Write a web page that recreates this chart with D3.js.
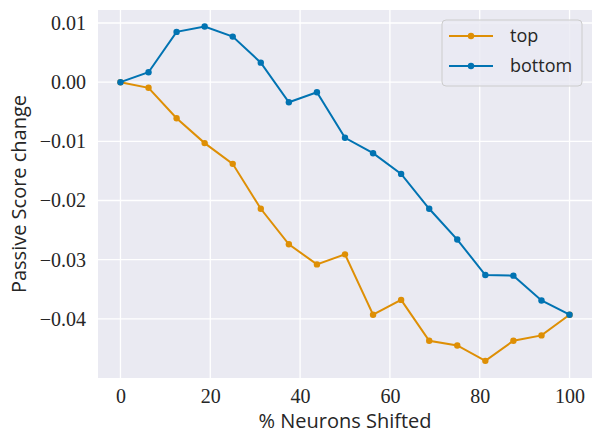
<!DOCTYPE html>
<html>
<head>
<meta charset="utf-8">
<script src="https://cdn.jsdelivr.net/npm/d3@7"></script>
<style>
  body { margin: 0; background: white; }
  svg { display: block; }
</style>
</head>
<body>
<div id="chart"></div>
<script>
// Percent of neurons shifted (x values).
let xValues = [0, 6.25, 12.5, 18.75, 25, 31.25, 37.5, 43.75, 50, 56.25, 62.5, 68.75, 75, 81.25, 87.5, 93.75, 100];

// Series values.
let topValues = [0, -0.00095, -0.0061, -0.0103, -0.0138, -0.0214, -0.0274, -0.0308, -0.0291,
	-0.0393, -0.0368, -0.0437, -0.0445, -0.0471, -0.0437, -0.0428, -0.0393];
let bottomValues = [0, 0.00168, 0.0085, 0.0094, 0.0077, 0.0033, -0.0034, -0.0017, -0.0094,
	-0.0120, -0.0155, -0.0214, -0.0266, -0.0326, -0.0327, -0.0369, -0.0393];

let xTicks = [0, 20, 40, 60, 80, 100];
let yTicks = [0.01, 0, -0.01, -0.02, -0.03, -0.04];

let seriesNames = ["top", "bottom"];
let seriesColors = ["#de8f05", "#0173b2"];


let width = 602, height = 441;
let margin = {top: 10, right: 10, bottom: 63, left: 98};

let svg = d3.select("#chart").append("svg")
	.attr("width", width)
	.attr("height", height);

let x = d3.scaleLinear()
	.domain([-5, 105])
	.range([margin.left, width - margin.right]);

let y = d3.scaleLinear()
	.domain([-0.0500, 0.0122])
	.range([height - margin.bottom, margin.top]);

// Plot background.
svg.append("rect")
	.attr("x", margin.left)
	.attr("y", margin.top)
	.attr("width", width - margin.left - margin.right)
	.attr("height", height - margin.top - margin.bottom)
	.attr("fill", "#eaeaf2");

// Grid lines.
let grid = svg.append("g").attr("class", "grid");
grid.selectAll("line.gx")
	.data(xTicks)
	.enter().append("line")
	.attr("class", "gx")
	.attr("x1", d=>x(d)).attr("x2", d=>x(d))
	.attr("y1", margin.top).attr("y2", height - margin.bottom)
	.attr("stroke", "white").attr("stroke-width", 1.3);
grid.selectAll("line.gy")
	.data(yTicks)
	.enter().append("line")
	.attr("class", "gy")
	.attr("y1", d=>y(d)).attr("y2", d=>y(d))
	.attr("x1", margin.left).attr("x2", width - margin.right)
	.attr("stroke", "white").attr("stroke-width", 1.3);

// Axes (labels only, no domain or tick marks).
let minus = s=>s.replace("-", "\u2212");

let xAxis = svg.append("g")
	.attr("transform", `translate(0,${height - margin.bottom})`)
	.call(d3.axisBottom(x).tickValues(xTicks).tickSize(0).tickPadding(11));
xAxis.select(".domain").remove();
xAxis.selectAll("text")
	.attr("font-family", "'Liberation Serif', 'DejaVu Serif', serif")
	.attr("font-size", 20)
	.attr("fill", "#262626");

let yAxis = svg.append("g")
	.attr("transform", `translate(${margin.left},0)`)
	.call(d3.axisLeft(y).tickValues(yTicks).tickSize(0).tickPadding(12)
		.tickFormat(d=>minus(d3.format(".2f")(d))));
yAxis.select(".domain").remove();
yAxis.selectAll("text")
	.attr("font-family", "'Liberation Serif', 'DejaVu Serif', serif")
	.attr("font-size", 20)
	.attr("fill", "#262626");

// Axis titles.
svg.append("text")
	.attr("x", (margin.left + width - margin.right) / 2)
	.attr("y", 428)
	.attr("text-anchor", "middle")
	.attr("font-family", "'Open Sans', 'DejaVu Sans', sans-serif")
	.attr("font-size", 20)
	.attr("fill", "#262626")
	.text("% Neurons Shifted");

svg.append("text")
	.attr("transform", `translate(26,${(margin.top + height - margin.bottom) / 2}) rotate(-90)`)
	.attr("text-anchor", "middle")
	.attr("font-family", "'Open Sans', 'DejaVu Sans', sans-serif")
	.attr("font-size", 20)
	.attr("fill", "#262626")
	.text("Passive Score change");

// Series.
let series = [topValues, bottomValues].map((vals, i)=>{
	return {
		name: seriesNames[i],
		color: seriesColors[i],
		data: vals.map((v, j)=>({x: xValues[j], y: v}))
	}
});

let line = d3.line().x(d=>x(d.x)).y(d=>y(d.y));

series.forEach(s=>{
	let g = svg.append("g").attr("class", s.name);
	g.append("path")
		.datum(s.data)
		.attr("d", line)
		.attr("fill", "none")
		.attr("stroke", s.color)
		.attr("stroke-width", 2);
	g.selectAll("circle")
		.data(s.data)
		.enter().append("circle")
		.attr("cx", d=>x(d.x))
		.attr("cy", d=>y(d.y))
		.attr("r", 3.2)
		.attr("fill", s.color);
});

// Legend.
let legend = svg.append("g").attr("transform", "translate(442,20)");
legend.append("rect")
	.attr("width", 140)
	.attr("height", 66)
	.attr("rx", 4)
	.attr("fill", "#eaeaf2")
	.attr("fill-opacity", 0.8)
	.attr("stroke", "#cccccc")
	.attr("stroke-width", 1);

series.forEach((s, i)=>{
	let row = legend.append("g").attr("transform", `translate(0,${16 + i * 30})`);
	row.append("line")
		.attr("x1", 7).attr("x2", 51)
		.attr("stroke", s.color).attr("stroke-width", 2);
	row.append("circle")
		.attr("cx", 29).attr("r", 3.2).attr("fill", s.color);
	row.append("text")
		.attr("x", 68)
		.attr("y", 6)
		.attr("font-family", "'Open Sans', 'DejaVu Sans', sans-serif")
		.attr("font-size", 18)
		.attr("fill", "#262626")
		.text(s.name);
});
</script>
</body>
</html>
